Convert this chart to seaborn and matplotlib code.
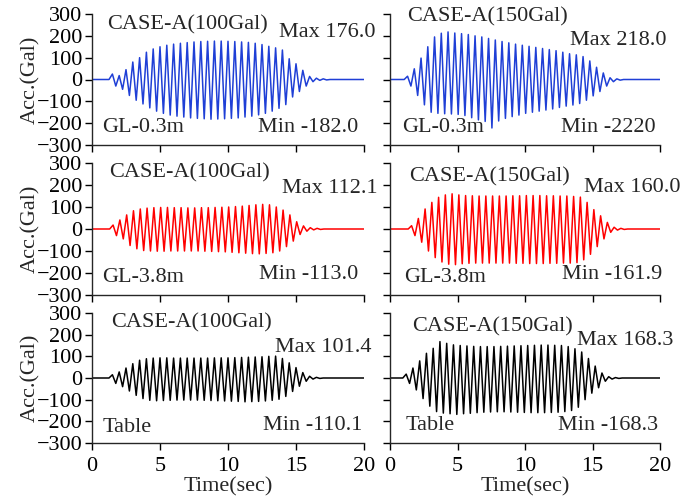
import numpy as np
import pandas as pd
import matplotlib
matplotlib.use("Agg")
import matplotlib.pyplot as plt
import seaborn as sns

# ---- data: cycle peak accelerations (Gal), 2 Hz loading ----
period = 0.5
t_end = 20.0

tl_t0 = 1.5
tl_pos = [25, 18, 45, 80, 100, 125, 140, 150, 157, 162, 166, 169, 172, 174, 175, 176,
          176, 175, 174, 172, 170, 166, 160, 152, 145, 135, 95, 72, 42, 14, 6, 3]
tl_neg = [-30, -45, -73, -95, -112, -130, -145, -155, -163, -168, -172, -176, -178, -180, -182, -181,
          -180, -178, -176, -172, -168, -162, -155, -145, -132, -115, -80, -55, -30, -10, -4, -2]

tr_t0 = 1.3
tr_pos = [15, 49, 98, 150, 195, 212, 218, 213, 210, 206, 200, 195, 188, 181, 174, 168,
          162, 157, 152, 147, 142, 137, 132, 125, 118, 113, 105, 85, 56, 30, 8, 3]
tr_neg = [-30, -73, -116, -150, -155, -157, -158, -160, -165, -175, -185, -192, -222, -190, -178, -170,
          -163, -155, -150, -145, -140, -135, -128, -122, -117, -110, -95, -75, -55, -30, -10, -3]

ml_t0 = 1.55
ml_pos = [18, 41, 64, 83, 91, 95, 97, 98, 98, 97, 97, 96, 96, 97, 97, 98,
          99, 100, 102, 104, 107, 110, 112, 110, 100, 86, 64, 33, 14, 6, 3]
ml_neg = [-30, -45, -75, -90, -98, -100, -101, -101, -100, -100, -100, -100, -100, -101, -102, -103,
          -104, -106, -108, -110, -112, -113, -111, -108, -100, -80, -55, -25, -10, -4, -2]

mr_t0 = 1.6
mr_pos = [15, 48, 91, 121, 144, 155, 160, 155, 152, 151, 150, 150, 150, 150, 150, 151,
          151, 152, 152, 152, 151, 151, 150, 150, 148, 145, 121, 88, 60, 30, 8, 3]
mr_neg = [-30, -60, -100, -130, -150, -160, -162, -158, -156, -155, -155, -155, -155, -155, -155, -156,
          -156, -157, -157, -157, -156, -156, -155, -155, -153, -140, -115, -80, -45, -15, -5, -2]

bl_t0 = 1.5
bl_pos = [15, 28, 46, 66, 82, 89, 92, 93, 93, 92, 92, 92, 92, 92, 92, 93,
          93, 93, 94, 95, 96, 97, 98, 100, 101, 90, 70, 48, 25, 8, 3]
bl_neg = [-25, -40, -60, -80, -95, -103, -105, -104, -103, -102, -102, -102, -102, -103, -104, -105,
          -106, -107, -108, -110, -109, -108, -106, -103, -98, -85, -62, -38, -15, -5, -2]

br_t0 = 1.2
br_pos = [18, 46, 79, 114, 137, 168, 160, 153, 150, 148, 146, 145, 145, 145, 146, 147,
          148, 149, 150, 151, 152, 152, 151, 150, 145, 135, 120, 90, 55, 23, 6, 2]
br_neg = [-25, -55, -95, -130, -155, -162, -165, -168, -165, -163, -160, -158, -157, -156, -156, -157,
          -158, -159, -160, -160, -160, -159, -158, -155, -150, -135, -100, -70, -45, -15, -5, -2]

titles = ["CASE-A(100Gal)", "CASE-A(150Gal)"] * 3
max_labels = ["Max 176.0", "Max 218.0", "Max 112.1", "Max 160.0", "Max 101.4", "Max 168.3"]
min_labels = ["Min -182.0", "Min -2220", "Min -113.0", "Min -161.9", "Min -110.1", "Min -168.3"]
loc_labels = ["GL-0.3m", "GL-0.3m", "GL-3.8m", "GL-3.8m", "Table", "Table"]
colors = ["#1f3fd6", "#1f3fd6", "#ff0000", "#ff0000", "#000000", "#000000"]

y_ticks = [-300, -200, -100, 0, 100, 200, 300]
x_ticks = [0, 5, 10, 15, 20]

panels = [(tl_t0, tl_pos, tl_neg), (tr_t0, tr_pos, tr_neg),
          (ml_t0, ml_pos, ml_neg), (mr_t0, mr_pos, mr_neg),
          (bl_t0, bl_pos, bl_neg), (br_t0, br_pos, br_neg)]


def wave_frame(t0, pos, neg):
    t = [0.0, t0 - 0.25]
    a = [0.0, 0.0]
    for i, (p, n) in enumerate(zip(pos, neg)):
        t += [t0 + period * i, t0 + period * i + period / 2]
        a += [p, n]
    t += [t[-1] + period / 2, t_end]
    a += [0.0, 0.0]
    return pd.DataFrame({"Time": t, "Acc": a})


sns.set_theme(style="ticks")
plt.rcParams["font.family"] = ["Liberation Serif", "DejaVu Serif"]
plt.rcParams["axes.linewidth"] = 1.0
FS = 16

fig = plt.figure(figsize=(6.98, 5.01), dpi=100)
W, H = 698.0, 501.0
cols = [(92, 364), (390, 660)]
rows = [(14, 145), (163, 295), (313, 443)]

# text positions in axes fraction: (title, max, loc, min)
txt_pos = [
    [(0.057, 0.916), (0.687, 0.855), (0.037, 0.13), (0.978, 0.13)],
    [(0.063, 0.977), (0.667, 0.80), (0.044, 0.137), (0.985, 0.137)],
    [(0.063, 0.924), (0.699, 0.81), (0.037, 0.129), (0.978, 0.152)],
    [(0.070, 0.894), (0.719, 0.818), (0.052, 0.129), (1.007, 0.152)],
    [(0.070, 0.923), (0.673, 0.738), (0.040, 0.123), (0.993, 0.138)],
    [(0.081, 0.892), (0.693, 0.792), (0.056, 0.138), (0.993, 0.138)],
]

for k, (t0, pos, neg) in enumerate(panels):
    r, c = divmod(k, 2)
    x0, x1 = cols[c]
    y0, y1 = rows[r]
    ax = fig.add_axes([x0 / W, 1 - y1 / H, (x1 - x0) / W, (y1 - y0) / H])
    df = wave_frame(t0, pos, neg)
    sns.lineplot(data=df, x="Time", y="Acc", ax=ax, color=colors[k], linewidth=1.1,
                 estimator=None, sort=False)
    ax.set_xlim(0, 20)
    ax.set_ylim(-300, 300)
    ax.set_xticks(x_ticks)
    ax.set_yticks(y_ticks)
    sns.despine(ax=ax)
    ax.tick_params(direction="out", length=5, width=1.0, colors="black", labelsize=FS, pad=2)
    ax.tick_params(axis="x", pad=5)
    if c == 0:
        ax.set_ylabel("Acc.(Gal)", fontsize=FS, labelpad=-3)
    else:
        ax.set_ylabel("")
        ax.set_yticklabels([])
    if r == 2:
        ax.set_xlabel("Time(sec)", fontsize=FS, labelpad=1)
    else:
        ax.set_xlabel("")
        ax.set_xticklabels([])
    p = txt_pos[k]
    ax.text(p[0][0], p[0][1], titles[k], transform=ax.transAxes, fontsize=FS, ha="left", va="center")
    ax.text(p[1][0], p[1][1], max_labels[k], transform=ax.transAxes, fontsize=FS, ha="left", va="center")
    ax.text(p[2][0], p[2][1], loc_labels[k], transform=ax.transAxes, fontsize=FS, ha="left", va="center")
    ax.text(p[3][0], p[3][1], min_labels[k], transform=ax.transAxes, fontsize=FS, ha="right", va="center")

fig.savefig("out.png", dpi=100)
